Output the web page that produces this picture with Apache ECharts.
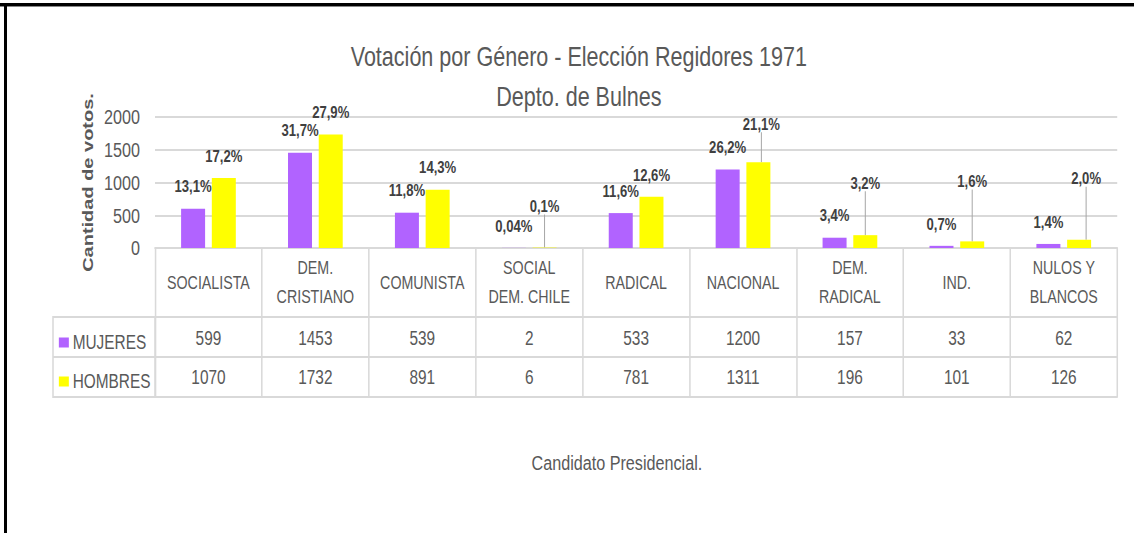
<!DOCTYPE html>
<html>
<head>
<meta charset="utf-8">
<script src="https://cdn.jsdelivr.net/npm/echarts@6/dist/echarts.min.js"></script>
<style>
  html, body { margin: 0; padding: 0; background: #fff; }
  #wrap { position: relative; width: 1134px; height: 533px; overflow: hidden; background: #fff; }
  #chart { position: absolute; left: 0; top: 0; width: 1473px; height: 533px;
           transform-origin: 0 0; transform: scaleX(0.77); }
  .bt { position: absolute; left: 0; top: 3px; width: 1134px; height: 3px; background: #000; }
  .bt2 { position: absolute; left: 0; top: 6px; width: 1134px; height: 1px; background: #888; }
  .bl { position: absolute; left: 4px; top: 3px; width: 3px; height: 530px; background: #000; }
</style>
</head>
<body>
<div id="wrap">
  <div id="chart"></div>
  <div class="bt"></div><div class="bt2"></div><div class="bl"></div>
</div>
<script>
const categories = ['SOCIALISTA', 'DEM.\nCRISTIANO', 'COMUNISTA', 'SOCIAL\nDEM. CHILE', 'RADICAL', 'NACIONAL', 'DEM.\nRADICAL', 'IND.', 'NULOS Y\nBLANCOS'];
const mujeres = [599, 1453, 539, 2, 533, 1200, 157, 33, 62];
const hombres = [1070, 1732, 891, 6, 781, 1311, 196, 101, 126];
const mujeresPct = ['13,1%', '31,7%', '11,8%', '0,04%', '11,6%', '26,2%', '3,4%', '0,7%', '1,4%'];
const hombresPct = ['17,2%', '27,9%', '14,3%', '0,1%', '12,6%', '21,1%', '3,2%', '1,6%', '2,0%'];
const yTicks = [0, 500, 1000, 1500, 2000];

// The reference uses a very condensed face; the chart is drawn in a wider box and
// squeezed horizontally by SX, so horizontal layout values are divided by SX.
const SX = 0.77;
const X = v => v / SX;

const FONT = "'Liberation Sans', Arial, sans-serif";
const GRAY = '#595959';
const LINE = '#d9d9d9';

// manual label displacement (Excel-style moved labels with leader lines)
const hShift = { 3: [0, -19], 5: [3, -16], 6: [0, -30], 7: [0, -38], 8: [7, -39] };

const chart = echarts.init(document.getElementById('chart'), null, { renderer: 'svg' });

const labelStyle = {
  show: true, position: 'top', distance: 14,
  fontFamily: FONT, fontWeight: 'bold', fontSize: 17, color: '#404040'
};

chart.setOption({
  animation: false,
  backgroundColor: '#fff',
  title: [
    {
      text: 'Votación por Género - Elección Regidores 1971\nDepto. de Bulnes',
      left: X(575), top: 31, textAlign: 'center',
      textStyle: { fontFamily: FONT, fontWeight: 'normal', fontSize: 28, lineHeight: 40, color: GRAY }
    },
    {
      text: 'Candidato Presidencial.',
      left: X(613), top: 447, textAlign: 'center',
      textStyle: { fontFamily: FONT, fontWeight: 'normal', fontSize: 21, color: GRAY }
    }
  ],
  legend: {
    orient: 'vertical', left: X(55), top: 327,
    itemWidth: X(10), itemHeight: 10, itemGap: 18, icon: 'rect',
    textStyle: { fontFamily: FONT, fontSize: 20, lineHeight: 21, color: GRAY },
    data: ['MUJERES', 'HOMBRES']
  },
  grid: { left: X(155), right: X(17), top: 117, bottom: 285, containLabel: false },
  xAxis: [
    {
      type: 'category', data: categories, position: 'bottom',
      axisLine: { show: true, lineStyle: { color: LINE, width: 2 } },
      axisTick: { show: true, length: 69, interval: 0, lineStyle: { color: LINE, width: 2 } },
      axisLabel: { interval: 0, margin: 34, verticalAlign: 'middle', lineHeight: 29,
        fontFamily: FONT, fontSize: 18.5, color: GRAY }
    },
    {
      type: 'category', data: mujeres.map(String), position: 'bottom', offset: 69,
      axisLine: { show: true, lineStyle: { color: LINE, width: 2 } },
      axisTick: { show: true, length: 40, interval: 0, lineStyle: { color: LINE, width: 2 } },
      axisLabel: { interval: 0, margin: 21, verticalAlign: 'middle',
        fontFamily: FONT, fontSize: 20, color: GRAY }
    },
    {
      type: 'category', data: hombres.map(String), position: 'bottom', offset: 109,
      axisLine: { show: true, lineStyle: { color: LINE, width: 2 } },
      axisTick: { show: true, length: 40, interval: 0, lineStyle: { color: LINE, width: 2 } },
      axisLabel: { interval: 0, margin: 20, verticalAlign: 'middle',
        fontFamily: FONT, fontSize: 20, color: GRAY }
    },
    {
      type: 'category', data: categories, position: 'bottom', offset: 149,
      axisLine: { show: true, lineStyle: { color: LINE, width: 2 } },
      axisTick: { show: false }, axisLabel: { show: false }
    }
  ],
  yAxis: {
    type: 'value', min: 0, max: 2000, interval: 500,
    name: 'Cantidad de votos.', nameLocation: 'middle', nameRotate: 90, nameGap: 65,
    nameTextStyle: { fontFamily: FONT, fontWeight: 'bold', fontSize: 20, color: GRAY },
    axisLine: { show: false }, axisTick: { show: false },
    axisLabel: { margin: X(15), fontFamily: FONT, fontSize: 21, color: GRAY,
      formatter: v => (yTicks.indexOf(v) >= 0 ? String(v) : '') },
    splitLine: { show: true, lineStyle: { color: LINE, width: 2 } }
  },
  graphic: [
    { type: 'rect', shape: { x: X(53), y: 317, width: X(102), height: 80 },
      style: { fill: 'none', stroke: LINE, lineWidth: 2 }, silent: true },
    { type: 'line', shape: { x1: X(53), y1: 357, x2: X(155), y2: 357 },
      style: { stroke: LINE, lineWidth: 2 }, silent: true }
  ],
  series: [
    {
      name: 'MUJERES', type: 'bar', xAxisIndex: 0, data: mujeres,
      barWidth: X(24), barGap: '28%',
      itemStyle: { color: '#B163FF' },
      label: Object.assign({}, labelStyle, { formatter: p => mujeresPct[p.dataIndex] })
    },
    {
      name: 'HOMBRES', type: 'bar', xAxisIndex: 0,
      data: hombres.map((v, i) => ({ value: v, labelLine: { show: !!hShift[i] } })),
      barWidth: X(24), barGap: '28%',
      itemStyle: { color: '#FFFF00' },
      label: Object.assign({}, labelStyle, { formatter: p => hombresPct[p.dataIndex] }),
      labelLine: { show: false, lineStyle: { color: '#a6a6a6', width: 1.3 } },
      labelLayout: p => {
        const s = hShift[p.dataIndex];
        return s ? { dx: X(s[0]), dy: s[1] } : {};
      }
    }
  ]
});
</script>
</body>
</html>
